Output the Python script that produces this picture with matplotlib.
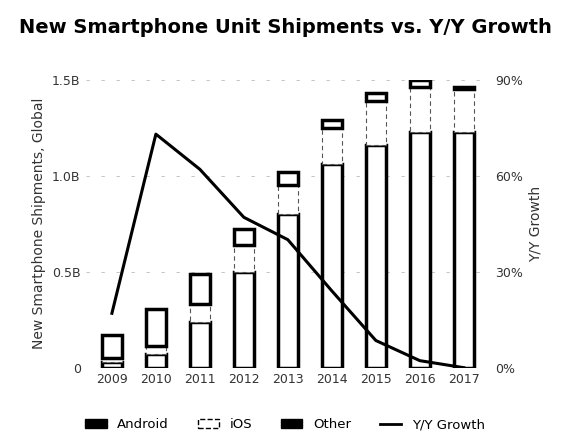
import numpy as np
import matplotlib
matplotlib.use('Agg')
import matplotlib.pyplot as plt
from matplotlib.patches import Patch
from matplotlib.lines import Line2D

years = ['2009', '2010', '2011', '2012', '2013', '2014', '2015', '2016', '2017']
android = [0.03, 0.07, 0.24, 0.50, 0.80, 1.06, 1.16, 1.23, 1.23]
ios = [0.02, 0.045, 0.09, 0.14, 0.15, 0.19, 0.23, 0.23, 0.22]
other = [0.12, 0.19, 0.16, 0.08, 0.07, 0.04, 0.04, 0.04, 0.01]
growth = [17, 73, 62, 47, 40, 24, 8.5, 2.2, 0]

plt.rcParams['font.family'] = 'DejaVu Sans'
fig, ax = plt.subplots(figsize=(5.7, 4.43), dpi=100)
x = np.arange(len(years))
w = 0.45
a = np.array(android); i = np.array(ios); o = np.array(other)
ax.bar(x, a, w, color='white', edgecolor='black', linewidth=2.5, zorder=3)
ax.bar(x, i, w, bottom=a, color='white', edgecolor='#555555', linewidth=0.8,
       linestyle=(0, (4, 3)), zorder=3)
ax.bar(x, o, w, bottom=a + i, color='white', edgecolor='black', linewidth=2.5, zorder=3)

ax.set_ylim(0, 1.5)
ax.set_yticks([0, 0.5, 1.0, 1.5])
ax.set_yticklabels(['0', '0.5B', '1.0B', '1.5B'], fontsize=9, color='#333333')
ax.set_xticks(x)
ax.set_xticklabels(years, fontsize=9, color='#333333')
ax.set_xlim(-0.6, len(years) - 0.4)
ax.set_ylabel('New Smartphone Shipments, Global', fontsize=10, color='#333333')
ax.yaxis.grid(True, color='#bbbbbb', linestyle=(0, (4, 14)), linewidth=0.6)
ax.set_axisbelow(True)
for s in ax.spines.values():
    s.set_visible(False)
ax.tick_params(length=0)

ax2 = ax.twinx()
ax2.plot(x, growth, color='black', linewidth=2.2, zorder=4)
ax2.set_ylim(0, 90)
ax2.set_yticks([0, 30, 60, 90])
ax2.set_yticklabels(['0%', '30%', '60%', '90%'], fontsize=9, color='#333333')
ax2.set_ylabel('Y/Y Growth', fontsize=10, color='#333333')
for s in ax2.spines.values():
    s.set_visible(False)
ax2.tick_params(length=0)

fig.suptitle('New Smartphone Unit Shipments vs. Y/Y Growth', fontsize=14,
             fontweight='bold', y=0.96)
handles = [Patch(facecolor='black', edgecolor='black', label='Android'),
           Patch(facecolor='white', edgecolor='black', linestyle='--', label='iOS'),
           Patch(facecolor='black', edgecolor='black', label='Other'),
           Line2D([0], [0], color='black', linewidth=2, label='Y/Y Growth')]
fig.legend(handles=handles, loc='lower center', ncol=4, frameon=False, fontsize=9.5,
           bbox_to_anchor=(0.5, 0.0), handlelength=1.6, columnspacing=2.2)
fig.subplots_adjust(left=0.15, right=0.86, top=0.82, bottom=0.17)
fig.savefig('out.png', dpi=100)
